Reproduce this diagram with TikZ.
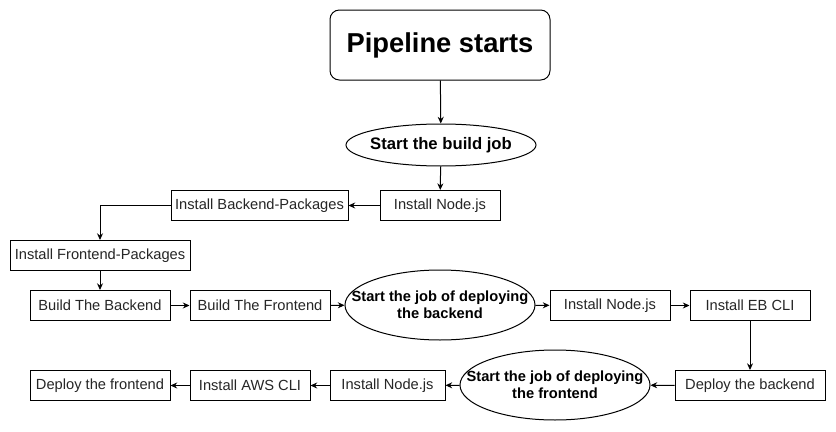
\documentclass[tikz,border=0pt]{standalone}
\usepackage{fontspec}
\setmainfont{Liberation Sans}
\usetikzlibrary{shapes.geometric,arrows.meta}
\tikzset{
  box/.style={draw, line width=0.75pt, rectangle, inner sep=0pt, minimum height=22.5pt, font=\fontsize{11}{13}\selectfont, text=black!85},
  oval/.style={draw, line width=0.75pt, ellipse, inner xsep=-40pt, inner ysep=-15pt, minimum width=142.5pt, font=\bfseries\fontsize{11}{12.75}\selectfont, align=center},
  startbox/.style={draw, line width=0.75pt, rounded corners=7pt, inner sep=0pt, minimum width=165pt, minimum height=52.5pt, font=\bfseries\fontsize{20.5}{23}\selectfont},
  arr/.style={-{Stealth[length=5pt,width=4.5pt]}, line width=0.75pt}
}
\begin{document}
\begin{tikzpicture}[x=0.75pt,y=-0.75pt]
\useasboundingbox (0,0) rectangle (836,432);
\fill[white] (0,0) rectangle (836,432);
\node[startbox] (start) at (440,45) {Pipeline starts};
\node[oval, minimum height=31.5pt, font=\bfseries\fontsize{12.5}{14}\selectfont] (e1) at (441,145) {Start the build job};
\node[box, minimum width=90pt] (n1) at (440,205.5) {Install Node.js};
\node[box, minimum width=132.75pt] (bp) at (259.5,205.5) {Install Backend-Packages};
\node[box, minimum width=135pt] (fp) at (100,255.5) {Install Frontend-Packages};
\node[box, minimum width=105pt] (bb) at (100,305.5) {Build The Backend};
\node[box, minimum width=105pt] (bf) at (260,305.5) {Build The Frontend};
\node[oval, minimum height=52.5pt] (e2) at (440,305) {Start the job of deploying\\the backend};
\node[box, minimum width=90pt] (n2) at (610,305.5) {Install Node.js};
\node[box, minimum width=90pt] (eb) at (750,305.5) {Install EB CLI};
\node[box, minimum width=112.5pt] (db) at (750,385.5) {Deploy the backend};
\node[oval, minimum height=52.5pt] (e3) at (555,385) {Start the job of deploying\\the frontend};
\node[box, minimum width=86.25pt] (n3) at (387.5,385.5) {Install Node.js};
\node[box, minimum width=90pt] (aws) at (250,385.5) {Install AWS CLI};
\node[box, minimum width=105pt] (df) at (100,385.5) {Deploy the frontend};
\draw[arr] (start) -- (e1);
\draw[arr] (e1) -- (n1);
\draw[arr] (n1) -- (bp);
\draw[arr] (bp.west) -| (fp.north);
\draw[arr] (fp) -- (bb);
\draw[arr] (bb) -- (bf);
\draw[arr] (bf) -- (e2);
\draw[arr] (e2) -- (n2);
\draw[arr] (n2) -- (eb);
\draw[arr] (eb) -- (db);
\draw[arr] (db) -- (e3);
\draw[arr] (e3) -- (n3);
\draw[arr] (n3) -- (aws);
\draw[arr] (aws) -- (df);
\end{tikzpicture}
\end{document}
